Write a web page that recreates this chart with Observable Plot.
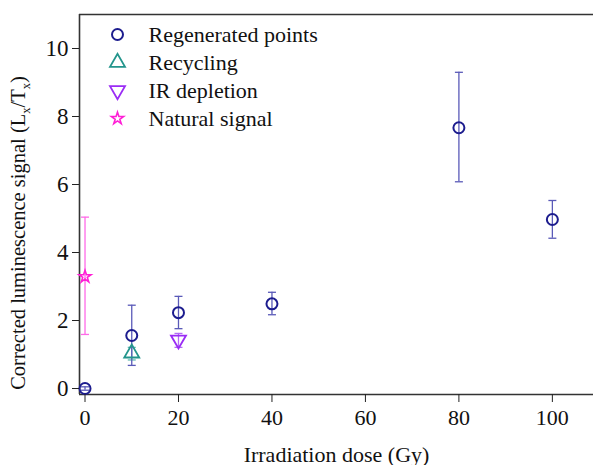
<!DOCTYPE html>
<html>
<head>
<meta charset="utf-8">
<script src="https://cdn.jsdelivr.net/npm/d3@7"></script>
<script src="https://cdn.jsdelivr.net/npm/@observablehq/plot@0.6"></script>
<style>
  html, body { margin: 0; padding: 0; background: #fff; }
  #chart svg { display: block; }
</style>
</head>
<body>
<div id="chart"></div>
<script>
// ---- data ----
const regenDose = [0, 10, 20, 40, 80, 100];
const regenValue = [0.0, 1.56, 2.23, 2.49, 7.67, 4.97];
const regenLow = [-0.05, 0.68, 1.76, 2.17, 6.08, 4.42];
const regenHigh = [0.05, 2.45, 2.71, 2.83, 9.30, 5.53];

const recyclingDose = [10];
const recyclingValue = [1.04];
const recyclingLow = [0.84];
const recyclingHigh = [1.21];

const irDose = [20];
const irValue = [1.43];
const irLow = [1.21];
const irHigh = [1.62];

const naturalDose = [0];
const naturalValue = [3.29];
const naturalLow = [1.59];
const naturalHigh = [5.04];

const xTicks = [0, 20, 40, 60, 80, 100];
const yTicks = [0, 2, 4, 6, 8, 10];
const xDomain = [-1.18, 108.8];
const yDomain = [-0.176, 11.0];

const legendLabels = ["Regenerated points", "Recycling", "IR depletion", "Natural signal"];

// ---- build tables ----
const build = (d, v, lo, hi) => d.map((x, i) => ({x, y: v[i], lo: lo[i], hi: hi[i]}));
const regen = build(regenDose, regenValue, regenLow, regenHigh);
const recyc = build(recyclingDose, recyclingValue, recyclingLow, recyclingHigh);
const ir = build(irDose, irValue, irLow, irHigh);
const nat = build(naturalDose, naturalValue, naturalLow, naturalHigh);

const capSymbol = {
  draw(ctx, size) {
    const w = Math.sqrt(size / Math.PI);
    ctx.moveTo(-w, 0);
    ctx.lineTo(w, 0);
  }
};
const downTri = {
  draw(ctx, size) {
    const s = Math.sqrt(size / Math.PI) * 1.25;
    const h = s * Math.sqrt(3) / 2;
    ctx.moveTo(-s, -h * 2 / 3);
    ctx.lineTo(s, -h * 2 / 3);
    ctx.lineTo(0, h * 4 / 3);
    ctx.closePath();
  }
};
const upTri = {
  draw(ctx, size) {
    const s = Math.sqrt(size / Math.PI) * 1.25;
    const h = s * Math.sqrt(3) / 2;
    ctx.moveTo(-s, h * 2 / 3);
    ctx.lineTo(s, h * 2 / 3);
    ctx.lineTo(0, -h * 4 / 3);
    ctx.closePath();
  }
};

const series = [
  {data: nat, symbol: "star", color: "#ff1fd6", err: "#ff6ae8", r: 3.8, sw: 1.6},
  {data: recyc, symbol: upTri, color: "#23958c", err: "#5fb8b0", r: 6, sw: 1.8},
  {data: ir, symbol: downTri, color: "#9a2cf5", err: "#b36af5", r: 6, sw: 1.8},
  {data: regen, symbol: "circle", color: "#1c1c8e", err: "#5a5ab8", r: 5.5, sw: 2}
];

const FONT = "Liberation Serif, Times New Roman, serif";
const marks = [];

// frame lines
marks.push(Plot.ruleY([yDomain[1]], {stroke: "#333", strokeWidth: 1.6}));
marks.push(Plot.ruleY([yDomain[0]], {stroke: "#333", strokeWidth: 1.6}));
marks.push(Plot.ruleX([xDomain[0]], {stroke: "#333", strokeWidth: 1.6}));

for (const s of series) {
  marks.push(Plot.ruleX(s.data, {x: "x", y1: "lo", y2: "hi", stroke: s.err, strokeWidth: 1.3}));
  marks.push(Plot.dot(s.data, {x: "x", y: "lo", symbol: capSymbol, r: 4, stroke: s.err, strokeWidth: 1.3}));
  marks.push(Plot.dot(s.data, {x: "x", y: "hi", symbol: capSymbol, r: 4, stroke: s.err, strokeWidth: 1.3}));
}
for (const s of series) {
  marks.push(Plot.dot(s.data, {x: "x", y: "y", symbol: s.symbol, r: s.r, stroke: s.color, strokeWidth: s.sw, fill: "white", fillOpacity: 0}));
}

// legend (inside plot frame)
const legendSeries = [series[3], series[1], series[2], series[0]];
legendLabels.forEach((lab, i) => {
  const s = legendSeries[i];
  marks.push(Plot.dot([lab], {frameAnchor: "top-left", dx: 38, dy: 20 + 28 * i, symbol: s.symbol, r: s.r, stroke: s.color, strokeWidth: s.sw}));
  marks.push(Plot.text([lab], {text: d => d, frameAnchor: "top-left", dx: 69, dy: 20 + 28 * i, textAnchor: "start", lineAnchor: "middle", fontSize: 22, fill: "#111", fontFamily: FONT}));
});

marks.push(Plot.axisX({ticks: xTicks, tickSize: 8, tickPadding: 7, fontSize: 22, label: "Irradiation dose (Gy)", labelAnchor: "center", labelArrow: "none", labelOffset: 67, stroke: "#222"}));
marks.push(Plot.axisY({ticks: yTicks, tickSize: 7, tickPadding: 4, fontSize: 23, label: null, stroke: "#222"}));

const chart = Plot.plot({
  width: 593,
  height: 465,
  marginLeft: 79,
  marginRight: 0,
  marginTop: 14,
  marginBottom: 71,
  x: {domain: xDomain},
  y: {domain: yDomain},
  style: {fontFamily: FONT, fontSize: "22px", color: "#111", background: "white", overflow: "visible"},
  marks
});

document.getElementById("chart").appendChild(chart);

// y axis title with subscripts
const svg = d3.select(chart);
const t = svg.append("text")
  .attr("transform", "translate(25,233) rotate(-90)")
  .attr("text-anchor", "middle")
  .attr("font-family", FONT)
  .attr("font-size", 20.5)
  .attr("fill", "#111");
t.append("tspan").text("Corrected luminescence signal (L");
t.append("tspan").attr("font-size", 12.5).attr("dy", 5).text("x");
t.append("tspan").attr("dy", -5).text("/T");
t.append("tspan").attr("font-size", 12.5).attr("dy", 5).text("x");
t.append("tspan").attr("dy", -5).text(")");
</script>
</body>
</html>
